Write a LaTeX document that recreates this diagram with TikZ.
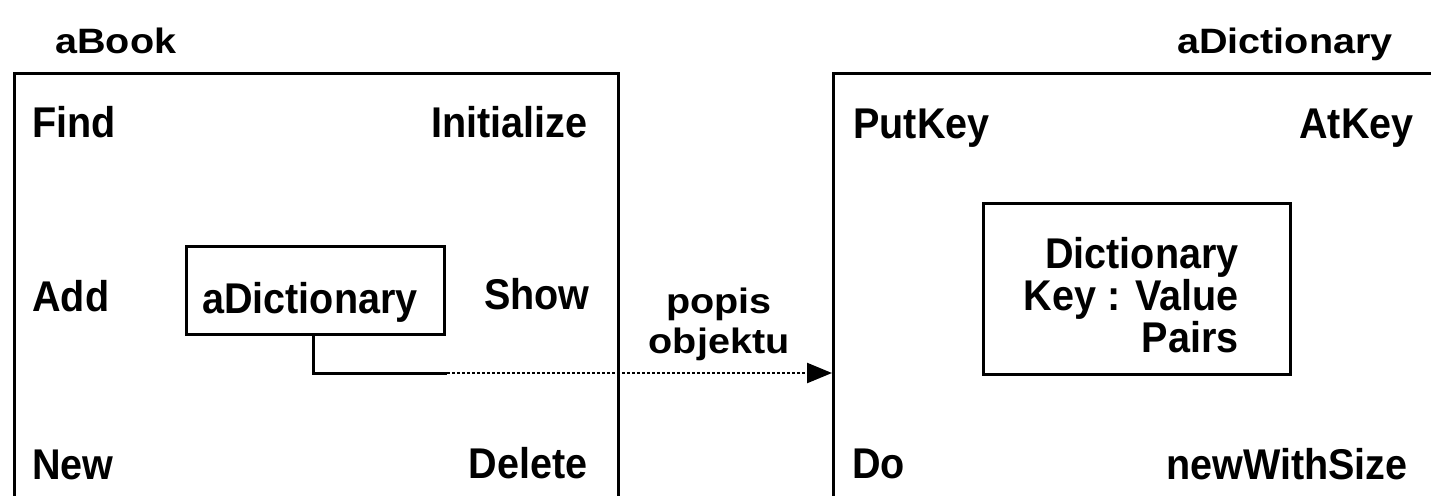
\documentclass[tikz,border=0pt]{standalone}
\usepackage{fontspec}
\usepackage{graphicx}
\newfontfamily\lbl{Liberation Sans}[UprightFont={* Bold}, FakeStretch=0.92]
\usetikzlibrary{arrows.meta}
\begin{document}
\begin{tikzpicture}[x=0.5pt,y=-0.5pt,
  lab/.style={font=\lbl\fontsize{21.5}{25}\selectfont, inner sep=0pt},
  frame/.style={draw, line width=1.5pt, inner sep=0pt}]
\useasboundingbox (0,0) rectangle (1431,495);
\clip (0,0) rectangle (1431,495);

% object frames (both run past the lower / right edge)
\node[frame, anchor=north west, minimum width=302pt, minimum height=224pt] (book) at (13,72) {};
\node[frame, anchor=north west, minimum width=315pt, minimum height=224pt] (dict) at (832,72) {};

% object names
\node[lab, anchor=base west] (bookname) at (55,53) {\scalebox{1}[0.82]{aBook}};
\node[lab, anchor=base east] (dictname) at (1393,53) {\scalebox{1}[0.82]{aDictionary}};

% aBook methods
\node[lab, anchor=base west] (find) at (32,137) {Find};
\node[lab, anchor=base east] (init) at (588,137) {Initialize};
\node[lab, anchor=base west] (add) at (32,311) {Add};
\node[lab, anchor=base east] (show) at (590,309) {Show};
\node[lab, anchor=base west] (new) at (32,479) {New};
\node[lab, anchor=base east] (delete) at (588,478) {Delete};

% instance variable inside aBook
\node[frame, anchor=north west, minimum width=129pt, minimum height=44pt] (ivar) at (185,245) {};
\node[lab, anchor=base] (ivarname) at (310,313) {aDictionary};

% aDictionary methods
\node[lab, anchor=base west] (putkey) at (853,138) {PutKey};
\node[lab, anchor=base east] (atkey) at (1414,138) {AtKey};
\node[lab, anchor=base west] (do) at (852,478) {Do};
\node[lab, anchor=base east] (nws) at (1408,479) {newWithSize};

% contents of aDictionary
\node[frame, anchor=north west, minimum width=153.5pt, minimum height=85.5pt] (pairs) at (982,202) {};
\node[lab, anchor=base east] (l1) at (1239,268) {Dictionary};
\node[lab, anchor=base east] (l2) at (1239,310) {Key : Value};
\node[lab, anchor=base east] (l3) at (1239,352) {Pairs};

% reference label
\node[lab, anchor=base] (ref1) at (719,313) {\scalebox{1}[0.82]{popis}};
\node[lab, anchor=base] (ref2) at (719,353) {\scalebox{1}[0.82]{objektu}};

% reference connector
\coordinate (bend) at (313,373);
\coordinate (dotstart) at (447,373);
\draw[line width=1.5pt] (ivar.south -| bend) -- (bend) -- (dotstart);
\draw[line width=1.2pt, dash pattern=on 1.5pt off 1pt,
      -{Triangle[length=12.5pt,width=10pt]}] (dotstart) -- (dict.west |- dotstart);
\end{tikzpicture}
\end{document}
